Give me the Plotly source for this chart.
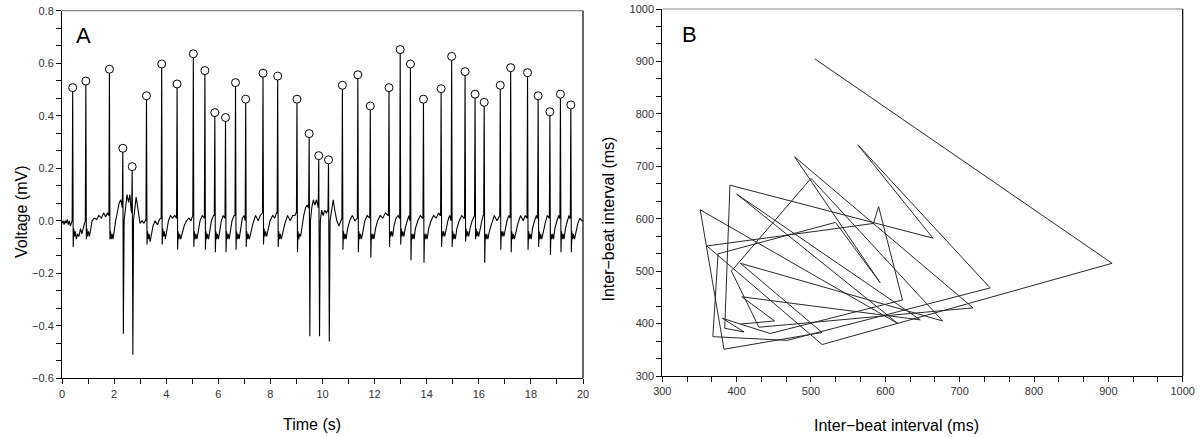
import plotly.graph_objects as go

# ---------------- Panel A data: ECG with detected R peaks ----------------
peak_t = [0.41, 0.915, 1.82, 2.335, 2.695, 3.243, 3.827, 4.418, 5.041, 5.486,
          5.867, 6.277, 6.661, 7.052, 7.716, 8.279, 9.02, 9.488, 9.856, 10.231,
          10.764, 11.357, 11.835, 12.553, 12.983, 13.376, 13.876, 14.553, 14.958, 15.473,
          15.856, 16.207, 16.824, 17.224, 17.871, 18.278, 18.729, 19.134, 19.533]
peak_mv = [0.507, 0.532, 0.577, 0.276, 0.206, 0.476, 0.597, 0.521, 0.636, 0.572,
           0.412, 0.393, 0.526, 0.463, 0.562, 0.551, 0.463, 0.332, 0.248, 0.232,
           0.516, 0.556, 0.437, 0.507, 0.652, 0.597, 0.463, 0.503, 0.626, 0.568,
           0.482, 0.451, 0.516, 0.583, 0.564, 0.476, 0.415, 0.482, 0.441]

lead_t = [0.0, 0.04, 0.08, 0.12, 0.16, 0.2, 0.24, 0.28, 0.32, 0.36]
lead_mv = [-0.01, 0.0, -0.015, 0.0, -0.01, 0.005, -0.015, 0.0, -0.02, -0.005]

# waveform samples around each beat: (seconds relative to the R peak, mV)
beat_rows = [
    [(-0.02, 0.0), (0.02, -0.10), (0.04, -0.03), (0.07, -0.06), (0.1, -0.04), (0.14, -0.07), (0.19, -0.05), (0.24, -0.06), (0.3, -0.03), (0.35, -0.05), (0.4, -0.03), (0.45, -0.02)],
    [(-0.02, 0.0), (0.02, -0.07), (0.04, -0.03), (0.07, -0.06), (0.1, -0.04), (0.14, -0.06), (0.19, -0.03), (0.24, 0.0), (0.32, 0.01), (0.42, 0.005), (0.5, 0.02), (0.6, 0.01), (0.68, 0.03), (0.76, 0.015), (0.84, 0.03)],
    [(-0.02, 0.02), (0.02, -0.07), (0.04, -0.04), (0.07, -0.07), (0.1, -0.05), (0.14, -0.07), (0.19, -0.03), (0.24, 0.0), (0.32, 0.04), (0.38, 0.07), (0.44, 0.08), (0.49, 0.05)],
    [(-0.02, 0.05), (0.02, -0.43), (0.05, 0.0), (0.1, 0.05), (0.16, 0.1), (0.22, 0.07), (0.27, 0.1), (0.32, 0.04)],
    [(-0.02, 0.03), (0.025, -0.51), (0.05, 0.0), (0.1, 0.06), (0.15, 0.09), (0.2, 0.06), (0.25, 0.02), (0.3, -0.01), (0.38, 0.0), (0.45, -0.01), (0.52, 0.005)],
    [(-0.02, 0.0), (0.02, -0.09), (0.04, -0.04), (0.07, -0.07), (0.1, -0.05), (0.14, -0.08), (0.19, -0.05), (0.25, -0.02), (0.33, 0.0), (0.42, -0.015), (0.5, 0.005), (0.56, 0.01)],
    [(-0.02, 0.01), (0.02, -0.09), (0.04, -0.03), (0.07, -0.06), (0.1, -0.04), (0.14, -0.07), (0.2, -0.04), (0.26, 0.0), (0.34, 0.02), (0.42, 0.01), (0.5, 0.02), (0.56, 0.01)],
    [(-0.02, 0.01), (0.02, -0.11), (0.04, -0.04), (0.07, -0.07), (0.1, -0.05), (0.14, -0.07), (0.2, -0.05), (0.27, -0.02), (0.36, 0.0), (0.45, 0.01), (0.53, 0.0), (0.6, 0.02)],
    [(-0.02, 0.02), (0.02, -0.10), (0.04, -0.04), (0.07, -0.07), (0.1, -0.05), (0.14, -0.07), (0.2, -0.04), (0.26, 0.0), (0.34, 0.02), (0.41, 0.01)],
    [(-0.02, 0.01), (0.02, -0.11), (0.04, -0.04), (0.07, -0.07), (0.1, -0.05), (0.14, -0.07), (0.19, -0.03), (0.25, 0.0), (0.33, 0.02)],
    [(-0.02, 0.02), (0.02, -0.12), (0.04, -0.04), (0.07, -0.07), (0.1, -0.05), (0.14, -0.07), (0.19, -0.03), (0.25, 0.0), (0.32, 0.02), (0.38, 0.01)],
    [(-0.02, 0.01), (0.02, -0.12), (0.04, -0.04), (0.07, -0.07), (0.1, -0.05), (0.14, -0.07), (0.19, -0.03), (0.25, 0.0), (0.33, 0.02)],
    [(-0.02, 0.02), (0.02, -0.11), (0.04, -0.04), (0.07, -0.07), (0.1, -0.05), (0.14, -0.07), (0.2, -0.03), (0.26, 0.01), (0.33, 0.02)],
    [(-0.02, 0.0), (0.02, -0.10), (0.04, -0.04), (0.07, -0.07), (0.1, -0.05), (0.14, -0.07), (0.2, -0.04), (0.28, -0.01), (0.38, 0.02), (0.48, 0.0), (0.56, 0.02), (0.63, 0.03)],
    [(-0.02, 0.03), (0.02, -0.09), (0.04, -0.03), (0.07, -0.06), (0.1, -0.04), (0.14, -0.06), (0.2, -0.03), (0.27, 0.0), (0.37, 0.02), (0.45, 0.01), (0.52, 0.03)],
    [(-0.02, 0.03), (0.02, -0.10), (0.04, -0.04), (0.07, -0.07), (0.1, -0.05), (0.14, -0.07), (0.2, -0.04), (0.28, -0.01), (0.38, 0.02), (0.48, 0.0), (0.58, 0.02), (0.66, 0.02), (0.71, 0.03)],
    [(-0.02, 0.03), (0.02, -0.12), (0.04, -0.04), (0.07, -0.07), (0.1, -0.05), (0.14, -0.06), (0.19, -0.02), (0.26, 0.02), (0.33, 0.05), (0.39, 0.06), (0.44, 0.05)],
    [(-0.02, 0.05), (0.025, -0.44), (0.05, 0.0), (0.1, 0.05), (0.16, 0.08), (0.22, 0.06), (0.28, 0.08), (0.33, 0.05)],
    [(-0.02, 0.05), (0.03, -0.44), (0.06, 0.0), (0.11, 0.04), (0.17, 0.02), (0.23, 0.04), (0.29, 0.03), (0.34, 0.04)],
    [(-0.02, 0.04), (0.03, -0.46), (0.06, 0.0), (0.12, 0.05), (0.18, 0.08), (0.24, 0.04), (0.32, 0.0), (0.4, -0.02), (0.47, 0.0), (0.51, 0.01)],
    [(-0.02, 0.01), (0.02, -0.11), (0.04, -0.04), (0.07, -0.07), (0.1, -0.05), (0.14, -0.07), (0.2, -0.03), (0.28, 0.0), (0.38, 0.02), (0.48, 0.0), (0.56, 0.01)],
    [(-0.02, 0.01), (0.02, -0.12), (0.04, -0.04), (0.07, -0.07), (0.1, -0.05), (0.14, -0.07), (0.2, -0.03), (0.27, 0.0), (0.36, 0.02), (0.44, 0.01)],
    [(-0.02, 0.01), (0.02, -0.14), (0.04, -0.05), (0.07, -0.07), (0.1, -0.05), (0.14, -0.07), (0.2, -0.03), (0.28, 0.0), (0.38, 0.02), (0.48, 0.01), (0.58, 0.03), (0.68, 0.02)],
    [(-0.02, 0.02), (0.02, -0.10), (0.04, -0.04), (0.07, -0.06), (0.1, -0.04), (0.14, -0.06), (0.19, -0.02), (0.27, 0.01), (0.35, 0.02), (0.4, 0.01)],
    [(-0.02, 0.01), (0.02, -0.09), (0.04, -0.03), (0.07, -0.06), (0.1, -0.04), (0.14, -0.06), (0.19, -0.03), (0.27, 0.0), (0.34, 0.02), (0.37, 0.0)],
    [(-0.02, 0.0), (0.02, -0.15), (0.04, -0.05), (0.07, -0.07), (0.1, -0.05), (0.14, -0.07), (0.19, -0.03), (0.28, 0.0), (0.38, 0.02), (0.46, 0.01)],
    [(-0.02, 0.01), (0.02, -0.16), (0.04, -0.05), (0.07, -0.07), (0.1, -0.05), (0.14, -0.07), (0.2, -0.03), (0.29, 0.0), (0.39, 0.02), (0.49, 0.01), (0.58, 0.03), (0.64, 0.02)],
    [(-0.02, 0.02), (0.02, -0.10), (0.04, -0.04), (0.07, -0.06), (0.1, -0.04), (0.14, -0.06), (0.19, -0.03), (0.26, 0.0), (0.33, 0.02), (0.37, 0.0)],
    [(-0.02, 0.0), (0.02, -0.10), (0.04, -0.04), (0.07, -0.07), (0.1, -0.05), (0.14, -0.07), (0.2, -0.03), (0.29, 0.0), (0.39, 0.02), (0.47, 0.01)],
    [(-0.02, 0.01), (0.02, -0.08), (0.04, -0.03), (0.07, -0.06), (0.1, -0.04), (0.14, -0.06), (0.19, -0.03), (0.27, 0.0), (0.34, 0.02)],
    [(-0.02, 0.02), (0.02, -0.07), (0.04, -0.03), (0.07, -0.06), (0.1, -0.04), (0.14, -0.06), (0.19, -0.03), (0.26, 0.0), (0.31, 0.02)],
    [(-0.02, 0.02), (0.02, -0.16), (0.04, -0.05), (0.07, -0.07), (0.1, -0.05), (0.14, -0.07), (0.2, -0.04), (0.29, -0.01), (0.39, 0.02), (0.49, 0.0), (0.57, 0.02)],
    [(-0.02, 0.02), (0.02, -0.11), (0.04, -0.04), (0.07, -0.06), (0.1, -0.04), (0.14, -0.06), (0.19, -0.03), (0.26, 0.0), (0.33, 0.02), (0.36, 0.01)],
    [(-0.02, 0.01), (0.02, -0.12), (0.04, -0.04), (0.07, -0.07), (0.1, -0.05), (0.14, -0.07), (0.2, -0.04), (0.28, -0.01), (0.38, 0.02), (0.48, 0.0), (0.56, 0.02), (0.61, 0.01)],
    [(-0.02, 0.01), (0.02, -0.11), (0.04, -0.04), (0.07, -0.07), (0.1, -0.05), (0.14, -0.07), (0.19, -0.03), (0.27, 0.0), (0.34, 0.02), (0.37, 0.01)],
    [(-0.02, 0.01), (0.02, -0.10), (0.04, -0.04), (0.07, -0.07), (0.1, -0.05), (0.14, -0.07), (0.2, -0.04), (0.27, -0.01), (0.35, 0.02), (0.41, 0.01)],
    [(-0.02, 0.01), (0.02, -0.13), (0.04, -0.05), (0.07, -0.07), (0.1, -0.05), (0.14, -0.07), (0.19, -0.03), (0.27, 0.0), (0.34, 0.02), (0.37, 0.01)],
    [(-0.02, 0.01), (0.02, -0.12), (0.04, -0.04), (0.07, -0.07), (0.1, -0.05), (0.14, -0.07), (0.19, -0.03), (0.27, 0.0), (0.33, 0.02), (0.36, 0.01)],
    [(-0.02, 0.01), (0.02, -0.12), (0.04, -0.04), (0.07, -0.07), (0.1, -0.05), (0.14, -0.07), (0.2, -0.04), (0.27, -0.01), (0.35, 0.01), (0.42, 0.0), (0.467, 0.0)],
]

# ---------------- Panel B data: successive inter-beat intervals (ms) ----------------
rr_ms = [505, 905, 515, 360, 548, 584, 591, 623, 445, 381,
         410, 384, 391, 664, 563, 741, 468, 368, 375, 533,
         593, 478, 718, 430, 393, 500, 677, 405, 515, 383,
         351, 617, 400, 647, 407, 451, 405, 399]

# ---------------- build ECG polyline ----------------
ecg_t = list(lead_t)
ecg_v = list(lead_mv)
for T, P, row in zip(peak_t, peak_mv, beat_rows):
    for dt, v in row:
        if dt < 0:
            ecg_t.append(T + dt); ecg_v.append(v)
    ecg_t.append(T); ecg_v.append(P)
    for dt, v in row:
        if dt > 0:
            ecg_t.append(T + dt); ecg_v.append(v)

FONT = "Liberation Sans, Arial, Helvetica, sans-serif"
TICKFONT = dict(family=FONT, size=11, color="#333333")

fig = go.Figure()
fig.add_trace(go.Scatter(x=ecg_t, y=ecg_v, mode="lines",
                         line=dict(color="black", width=1.1),
                         xaxis="x", yaxis="y", hoverinfo="skip"))
fig.add_trace(go.Scatter(x=peak_t, y=peak_mv, mode="markers",
                         marker=dict(symbol="circle", size=8, color="white",
                                     line=dict(color="black", width=1)),
                         xaxis="x", yaxis="y"))
fig.add_trace(go.Scatter(x=rr_ms[:-1], y=rr_ms[1:], mode="lines",
                         line=dict(color="#2a2a2a", width=1),
                         xaxis="x2", yaxis="y2"))

def axis(domain, rng, dtick, minor_dtick, tick0, anchor, fmt=None):
    d = dict(domain=domain, range=rng, dtick=dtick, tick0=tick0, anchor=anchor,
             automargin=False,
             showgrid=False, zeroline=False, showline=True, linecolor="black",
             linewidth=1, ticks="outside", ticklen=5, tickwidth=1, tickcolor="black",
             tickfont=TICKFONT, mirror=False,
             minor=dict(dtick=minor_dtick, tick0=tick0, ticks="outside", ticklen=5,
                        tickwidth=1, tickcolor="black", showgrid=False))
    if fmt:
        d["tickformat"] = fmt
    return d

W, H = 1200, 437
ax_l, ax_r = 62 / W, 583 / W
ay_b, ay_t = 1 - 378.3 / H, 1 - 10.7 / H
bx_l, bx_r = 662.3 / W, 1182.7 / W
by_b, by_t = 1 - 376 / H, 1 - 9 / H

fig.update_layout(
    width=W, height=H, margin=dict(l=0, r=0, t=0, b=0, autoexpand=False),
    paper_bgcolor="white", plot_bgcolor="white", showlegend=False,
    xaxis=axis([ax_l, ax_r], [0, 20], 2, 1, 0, "y"),
    yaxis=axis([ay_b, ay_t], [-0.6, 0.8], 0.2, 0.2 / 3, -0.6, "x", ".1f"),
    xaxis2=axis([bx_l, bx_r], [300, 1000], 100, 100 / 3, 300, "y2"),
    yaxis2=axis([by_b, by_t], [300, 1000], 100, 100 / 3, 300, "x2"),
)

shapes = []
for xr, yr in (("x domain", "y domain"), ("x2 domain", "y2 domain")):
    shapes.append(dict(type="line", xref=xr, yref=yr, x0=0, x1=1, y0=1, y1=1,
                       line=dict(color="#8a8a8a", width=1.2)))
    shapes.append(dict(type="line", xref=xr, yref=yr, x0=1, x1=1, y0=0, y1=1,
                       line=dict(color="black", width=1.2)))
fig.update_layout(shapes=shapes)

def px_ann(text, x, y, size, angle=0):
    return dict(text=text, x=x / W, y=1 - y / H, xref="paper", yref="paper",
                showarrow=False, textangle=angle, xanchor="center", yanchor="middle",
                font=dict(family=FONT, size=size, color="black"))

fig.update_layout(annotations=[
    px_ann("A", 83.5, 36, 22),
    px_ann("B", 689, 35, 22),
    px_ann("Time (s)", 312, 424, 16),
    px_ann("Voltage (mV)", 21, 212, 16, -90),
    px_ann("Inter\u2212beat interval (ms)", 896, 425, 16),
    px_ann("Inter\u2212beat interval (ms)", 607.5, 219, 16, -90),
])

fig.write_html("out.html", config={"displayModeBar": False},
               post_script="document.body.style.margin='0';document.body.style.overflow='hidden';")
